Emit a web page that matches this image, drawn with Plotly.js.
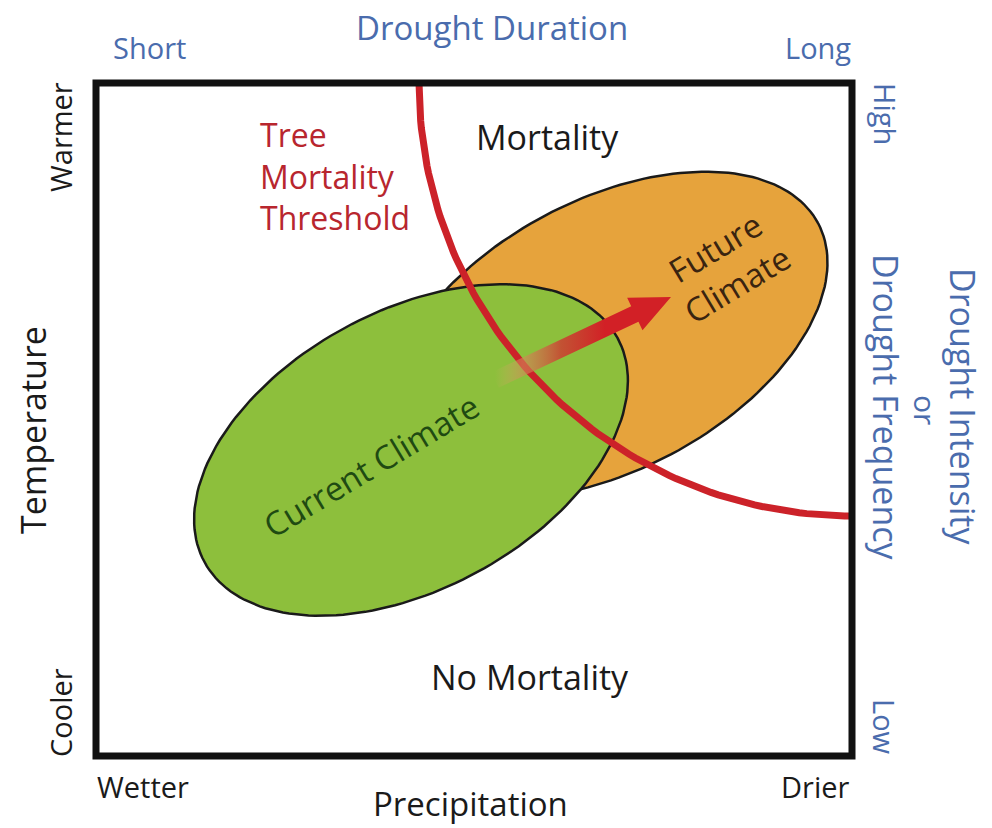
<!DOCTYPE html>
<html><head><meta charset="utf-8">
<script src="https://cdn.plot.ly/plotly-3.0.1.min.js"></script>
<style>html,body{margin:0;padding:0;background:#fff}#chart{width:992px;height:828px}</style>
</head><body><div id="chart"></div>
<script>
// Diagram units (1 unit = 1 px on both axes). x: Wetter -> Drier, y: Cooler -> Warmer
const xRange = [0, 756];
const yRange = [0, 673];

// Climate envelopes: [centerX, centerY, semiMajor, semiMinor, tiltDeg]
const currentClimate = [315, 306, 235, 139, 28.5];
const futureClimate  = [512, 421, 238, 135, 28];

// Tree mortality threshold: quarter circle around the warm/dry corner [cx, cy, radius]
const threshold = [756, 673, 433];

// Climate shift arrow: tail and tip
const shiftFrom = [399, 376];
const shiftTo   = [575, 459];

// Axis end labels
const xEndLabels = ['Wetter', 'Drier'];
const yEndLabels = ['Cooler', 'Warmer'];
const topEndLabels = ['Short', 'Long'];
const rightEndLabels = ['Low', 'High'];

const FONT = 'Open Sans, Noto Sans, sans-serif';
const BLUE = '#4a6cad';
const GREEN = '#8dbf3c';
const ORANGE = '#e6a33c';
const RED = '#cc2229';

function ellipse(p) {
  const [cx, cy, a, b, deg] = p, t = deg * Math.PI / 180, xs = [], ys = [];
  for (let i = 0; i <= 180; i++) {
    const s = i / 180 * 2 * Math.PI;
    const u = a * Math.cos(s), v = b * Math.sin(s);
    xs.push(cx + u * Math.cos(t) - v * Math.sin(t));
    ys.push(cy + u * Math.sin(t) + v * Math.cos(t));
  }
  return {x: xs, y: ys};
}
function arc(p) {
  const [cx, cy, r] = p, xs = [], ys = [];
  for (let i = 0; i <= 90; i++) {
    const s = Math.PI + i / 90 * Math.PI / 2;
    xs.push(cx + r * Math.cos(s)); ys.push(cy + r * Math.sin(s));
  }
  return {x: xs, y: ys};
}
function arrow(from, to, hw, headW, headL) {
  const dx = to[0] - from[0], dy = to[1] - from[1], L = Math.hypot(dx, dy);
  const ux = dx / L, uy = dy / L, nx = -uy, ny = ux;
  const bx = to[0] - ux * headL, by = to[1] - uy * headL;
  const pts = [
    [from[0] + nx * hw, from[1] + ny * hw],
    [bx + nx * hw, by + ny * hw],
    [bx + nx * headW, by + ny * headW],
    [to[0], to[1]],
    [bx - nx * headW, by - ny * headW],
    [bx - nx * hw, by - ny * hw],
    [from[0] - nx * hw, from[1] - ny * hw]
  ];
  return {x: pts.map(p => p[0]).concat([pts[0][0]]), y: pts.map(p => p[1]).concat([pts[0][1]])};
}

const eF = ellipse(futureClimate), eC = ellipse(currentClimate), th = arc(threshold);
const ar = arrow(shiftFrom, shiftTo, 8.5, 18, 40);

const traces = [
  {type: 'scatter', mode: 'lines', x: eF.x, y: eF.y, fill: 'toself', fillcolor: ORANGE,
   line: {color: '#1a1a1a', width: 2.5}, hoverinfo: 'skip'},
  {type: 'scatter', mode: 'lines', x: eC.x, y: eC.y, fill: 'toself', fillcolor: GREEN,
   line: {color: '#1a1a1a', width: 2.5}, hoverinfo: 'skip'},
  {type: 'scatter', mode: 'lines', x: th.x, y: th.y, line: {color: RED, width: 7}, hoverinfo: 'skip'},
  {type: 'scatter', mode: 'none', x: ar.x, y: ar.y, fill: 'toself',
   fillgradient: {type: 'horizontal', start: shiftFrom[0], stop: shiftFrom[0] + 110,
     colorscale: [[0, 'rgba(225,175,110,0)'], [0.25, 'rgba(210,140,90,0.6)'], [0.6, 'rgba(200,70,50,0.9)'], [1, 'rgb(210,32,38)']]},
   hoverinfo: 'skip'}
];

// inside texts: diagram units; outside texts: paper fractions computed from diagram units
function ann(text, x, y, size, color, angle, extra) {
  return Object.assign({text: text, x: x, y: y, xref: 'x', yref: 'y', showarrow: false,
    textangle: angle || 0, font: {family: FONT, size: size, color: color},
    xanchor: 'center', yanchor: 'middle'}, extra || {});
}
function outAnn(text, x, y, size, color, angle) {
  return ann(text, x / xRange[1], y / yRange[1], size, color, angle, {xref: 'paper', yref: 'paper'});
}

const annotations = [
  outAnn('Drought Duration', 396, 729, 33, BLUE),
  outAnn(topEndLabels[0], 53, 708, 29, BLUE),
  outAnn(topEndLabels[1], 722, 708, 29, BLUE),
  outAnn(rightEndLabels[1], 789, 642, 29, BLUE, 90),
  outAnn(rightEndLabels[0], 789, 29, 29, BLUE, 90),
  outAnn('Drought Intensity', 867, 349, 34, BLUE, 90),
  outAnn('or', 830, 346, 30, BLUE, 90),
  outAnn('Drought Frequency', 790, 348, 34, BLUE, 90),
  outAnn(yEndLabels[1], -36, 619, 29, '#1a1a1a', -90),
  outAnn('Temperature', -63, 326, 34, '#1a1a1a', -90),
  outAnn(yEndLabels[0], -36, 43, 29, '#1a1a1a', -90),
  outAnn(xEndLabels[0], 47, -30, 29, '#1a1a1a'),
  outAnn(xEndLabels[1], 719, -30, 29, '#1a1a1a'),
  outAnn('Precipitation', 374, -47, 33, '#1a1a1a'),
  ann('Mortality', 451, 619, 34, '#1a1a1a'),
  ann('No Mortality', 434, 79, 34, '#1a1a1a'),
  ann('Tree<br>Mortality<br>Threshold', 162, 580, 32, '#b8262e', 0, {xanchor: 'left', align: 'left'}),
  ann('Current Climate', 275, 291, 33, '#1f4a12', -31),
  ann('Future<br>Climate', 630, 490, 33, '#3a2410', -31)
];

const layout = {
  width: 992, height: 828,
  margin: {l: 96, r: 140, t: 83, b: 72},
  paper_bgcolor: '#fff', plot_bgcolor: '#fff',
  showlegend: false,
  xaxis: {range: xRange, showgrid: false, zeroline: false, showticklabels: false, ticks: '', fixedrange: true},
  yaxis: {range: yRange, showgrid: false, zeroline: false, showticklabels: false, ticks: '', fixedrange: true},
  shapes: [{type: 'rect', xref: 'paper', yref: 'paper', x0: 0, x1: 1, y0: 0, y1: 1,
    line: {color: '#111', width: 7}, layer: 'above'}],
  annotations: annotations
};

Plotly.newPlot('chart', traces, layout, {displayModeBar: false, staticPlot: true});
</script></body></html>
